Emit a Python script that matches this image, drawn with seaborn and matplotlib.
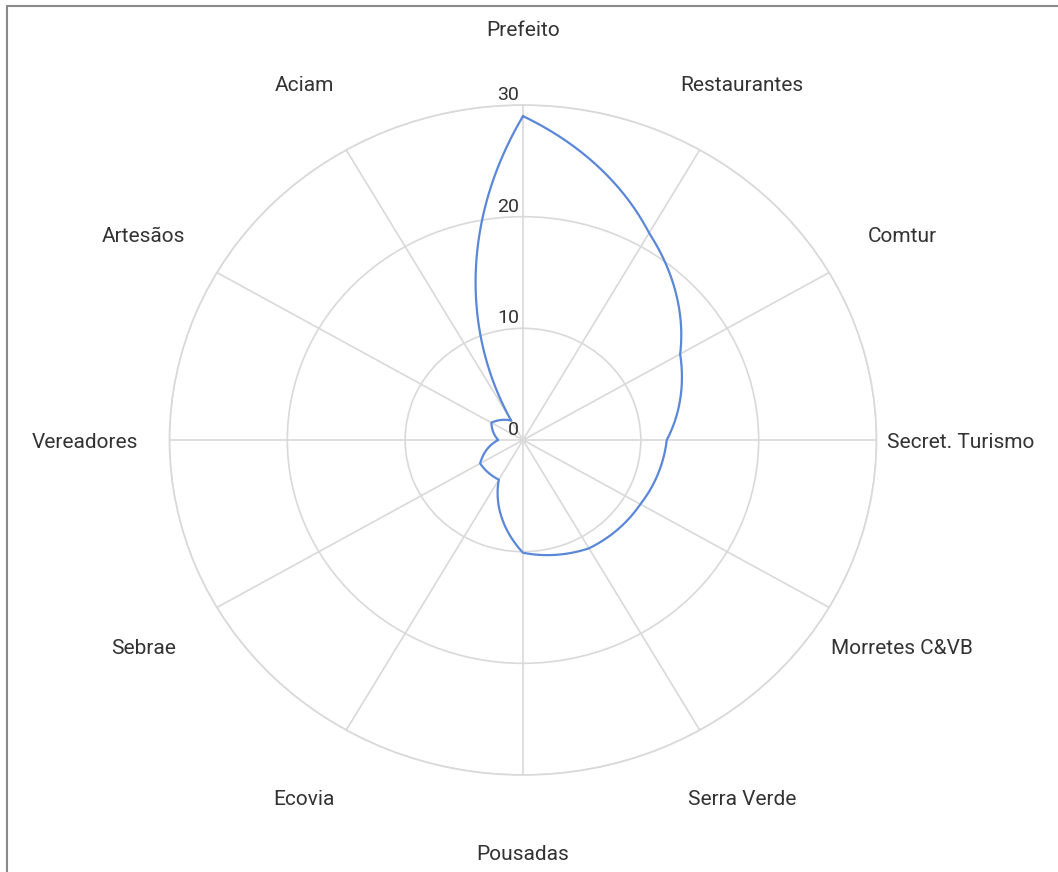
import numpy as np
import pandas as pd
import matplotlib
matplotlib.use("Agg")
import matplotlib.pyplot as plt
import matplotlib.transforms as mtransforms
from matplotlib.lines import Line2D
import seaborn as sns

# ---- data ----
categories = ["Prefeito", "Restaurantes", "Comtur", "Secret. Turismo",
              "Morretes C&VB", "Serra Verde", "Pousadas", "Ecovia",
              "Sebrae", "Vereadores", "Artesãos", "Aciam"]
values = [29, 21.4, 15.4, 12.2, 11.5, 11.2, 10.1, 4.1, 4.2, 2.1, 3.1, 2]
radial_ticks = [0, 10, 20, 30]
radial_tick_labels = ["0", "10", "20", "30"]

sns.set_theme(style="white")
plt.rcParams["font.family"] = ["Roboto", "DejaVu Sans"]

n = len(categories)
theta = np.arange(n) * 2 * np.pi / n
df = pd.DataFrame({"theta": np.append(theta, 2 * np.pi),
                   "value": values + values[:1]})

W, H = 1058, 872
DPI = 100
fig = plt.figure(figsize=(W / DPI, H / DPI), dpi=DPI)
cx, cy, RX, RY = 523, 440, 353.5, 335
ax = fig.add_axes([(cx - RX) / W, (H - cy - RY) / H, 2 * RX / W, 2 * RY / H],
                  projection="polar")
ax.set_aspect("auto")
ax.set_theta_zero_location("N")
ax.set_theta_direction(-1)

sns.lineplot(data=df, x="theta", y="value", sort=False, estimator=None,
             ax=ax, color="#5a87d8", linewidth=1.6)
line = ax.lines[-1]
line.get_path()._interpolation_steps = 80

ax.set_xlim(0, 2 * np.pi)
ax.set_ylim(0, 30)
ax.set_xticks(theta)
ax.set_xticklabels([])
ax.set_yticks(radial_ticks[1:])
ax.set_yticklabels([])
ax.tick_params(length=0)
ax.set_xlabel("")
ax.set_ylabel("")
ax.grid(True, color="#d9d9d9", linewidth=1.2)
ax.spines["polar"].set_color("#d9d9d9")
ax.spines["polar"].set_linewidth(1.2)

txt_color = "#333333"
# radial tick labels
off = mtransforms.ScaledTranslation(-4 / DPI, 5 / DPI, fig.dpi_scale_trans)
for r, lab in zip(radial_ticks, radial_tick_labels):
    ax.text(0, r, lab, ha="right", va="baseline", fontsize=14,
            color=txt_color, transform=ax.transData + off, clip_on=False)

# category labels, placed on an ellipse around the chart
LX, LY = 438, 412
for t, lab in zip(theta, categories):
    tr = ax.transAxes + mtransforms.ScaledTranslation(
        LX * np.sin(t) / DPI, (LY * np.cos(t) - 2.5) / DPI,
        fig.dpi_scale_trans)
    ax.text(0.5, 0.5, lab, ha="center", va="center", fontsize=15,
            color=txt_color, transform=tr, clip_on=False)

# figure frame (top & left visible)
fx, fy = 6.5 / W, 1 - 6.5 / H
fig.add_artist(Line2D([fx, fx], [-0.01, fy], transform=fig.transFigure,
                      color="#8a8a8a", linewidth=1.5))
fig.add_artist(Line2D([fx, 1.01], [fy, fy], transform=fig.transFigure,
                      color="#8a8a8a", linewidth=1.5))

fig.savefig("out.png", dpi=DPI, facecolor="white")
